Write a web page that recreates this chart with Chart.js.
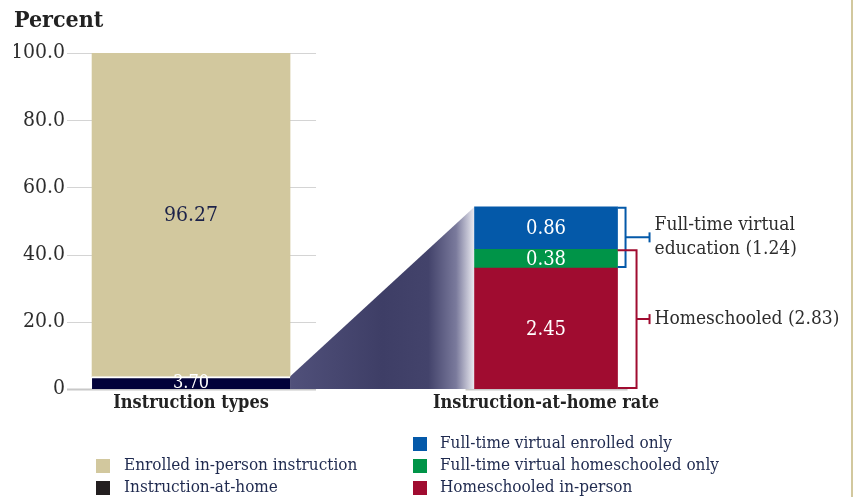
<!DOCTYPE html>
<html>
<head>
<meta charset="utf-8">
<script src="https://cdn.jsdelivr.net/npm/chart.js@4.4.1/dist/chart.umd.min.js"></script>
<style>
  html, body { margin: 0; padding: 0; background: #fff; overflow: hidden; }
  #wrap { position: relative; width: 856px; height: 497px; }
</style>
</head>
<body>
<div id="wrap"><canvas id="grafico"></canvas></div>
<script>
// categories on the x axis (placed on a linear scale so the two bars can differ in width)
const categories = ['Instruction types', 'Instruction-at-home rate'];
const categoryPos = [1, 2];

// left bar: all students
const typeLabels = ['Instruction-at-home', 'Enrolled in-person instruction'];
const typeValues = [3.70, 96.27];
const typeColors = ['#02023a', '#d2c89e'];

// right bar: breakdown of instruction-at-home (drawn magnified)
const homeLabels = ['Homeschooled in-person', 'Full-time virtual homeschooled only', 'Full-time virtual enrolled only'];
const homeValues = [2.45, 0.38, 0.86];
const homeColors = ['#a00c30', '#009448', '#0459a9'];
const homeScale = 14.7;

// bracket groups: [first segment index, last segment index]
const groupLabels = [['Full-time virtual', 'education (1.24)'], ['Homeschooled (2.83)']];
const groupRanges = [[1, 2], [0, 1]];
const groupColors = ['#0459a9', '#a00c30'];

const yTicks = [0, 20, 40, 60, 80, 100];

const FONT = "'DejaVu Serif Condensed', 'DejaVu Serif', serif";

document.addEventListener('DOMContentLoaded', function() {
  const ctx = document.getElementById('grafico').getContext('2d');

  Chart.defaults.font.family = FONT;
  Chart.defaults.color = '#2d2d2d';

  const datasets = [];
  typeValues.forEach((v, i) => datasets.push({
    label: typeLabels[i],
    data: [{ x: categoryPos[0], y: v }],
    backgroundColor: typeColors[i],
    barThickness: 198,
    borderColor: '#fff',
    borderWidth: i === 0 ? { top: 2, right: 0, bottom: 0, left: 0 } : 0,
    borderSkipped: false,
    shown: v.toFixed(2),
    labelColor: i === 0 ? '#fff' : '#1c2249',
    labelSize: i === 0 ? 18 : 21
  }));
  homeValues.forEach((v, i) => datasets.push({
    label: homeLabels[i],
    data: [{ x: categoryPos[1], y: v * homeScale }],
    backgroundColor: homeColors[i],
    barThickness: 143,
    borderWidth: 0,
    shown: v.toFixed(2),
    labelColor: '#fff',
    labelSize: 20
  }));

  const nType = typeValues.length;

  function elOf(chart, di) {
    return chart.getDatasetMeta(di).data[0];
  }

  // grid lines, baseline and the zoom wedge
  const backPlugin = {
    id: 'back',
    beforeDatasetsDraw(chart) {
      const c = chart.ctx;
      const area = chart.chartArea;
      const y = chart.scales.y;
      const navy = elOf(chart, 0);
      const leftRight = navy.x + navy.width / 2;
      const first = elOf(chart, nType);
      const last = elOf(chart, nType + homeValues.length - 1);
      const rLeft = first.x - first.width / 2;
      const rRight = first.x + first.width / 2;
      c.save();
      yTicks.forEach(t => {
        const py = Math.round(y.getPixelForValue(t)) + 0.5;
        c.beginPath();
        if (t === 0) {
          c.strokeStyle = '#c8c8c8';
          c.lineWidth = 2;
          c.moveTo(area.left, py); c.lineTo(leftRight + 26, py);
          c.moveTo(rLeft - 9, py); c.lineTo(rRight + 10, py);
        } else {
          c.strokeStyle = '#d4d4d4';
          c.lineWidth = 1;
          c.moveTo(area.left, py); c.lineTo(leftRight + 26, py);
        }
        c.stroke();
      });
      // wedge from the small slice to the blown-up bar
      const g = c.createLinearGradient(leftRight, 0, rLeft, 0);
      g.addColorStop(0, '#50507a');
      g.addColorStop(0.5, '#3e3e66');
      g.addColorStop(0.75, '#43436b');
      g.addColorStop(0.9, '#7a7a9c');
      g.addColorStop(1, '#ececf2');
      c.fillStyle = g;
      c.beginPath();
      c.moveTo(leftRight, navy.y);
      c.lineTo(rLeft, last.y);
      c.lineTo(rLeft, first.base);
      c.lineTo(leftRight, navy.base);
      c.closePath();
      c.fill();
      c.restore();
    }
  };

  // value labels, brackets, legend
  const frontPlugin = {
    id: 'front',
    afterDatasetsDraw(chart) {
      const c = chart.ctx;
      c.save();
      c.textAlign = 'center';
      c.textBaseline = 'middle';
      chart.data.datasets.forEach((ds, di) => {
        const el = elOf(chart, di);
        c.fillStyle = ds.labelColor;
        c.font = ds.labelSize + 'px ' + FONT;
        c.fillText(ds.shown, el.x, (el.y + el.base) / 2 + 1);
      });

      // brackets
      const first = elOf(chart, nType);
      const rRight = first.x + first.width / 2;
      const bx = [rRight + 8, rRight + 19];
      const tipX = rRight + 32;
      groupRanges.forEach((r, gi) => {
        const top = elOf(chart, nType + r[1]).y;
        const bot = elOf(chart, nType + r[0]).base;
        const x = bx[gi];
        const mid = (top + bot) / 2;
        c.strokeStyle = groupColors[gi];
        c.lineWidth = 2;
        c.beginPath();
        c.moveTo(rRight, top + 1); c.lineTo(x, top + 1); c.lineTo(x, bot - 1); c.lineTo(rRight, bot - 1);
        c.moveTo(x, mid); c.lineTo(tipX, mid);
        c.stroke();
        c.beginPath();
        c.moveTo(tipX, mid - 5); c.lineTo(tipX, mid + 5);
        c.stroke();
        c.fillStyle = '#2d2d2d';
        c.font = '19px ' + FONT;
        c.textAlign = 'left';
        const lines = groupLabels[gi];
        const lh = 24;
        lines.forEach((ln, li) => {
          c.fillText(ln, tipX + 5, mid + (li - (lines.length - 1) / 2) * lh);
        });
      });

      // legend: two columns
      c.font = '17px ' + FONT;
      c.textAlign = 'left';
      const rowY = [444, 466, 488];
      const leftCol = [{ t: typeLabels[1], col: typeColors[1] }, { t: typeLabels[0], col: '#231f20' }];
      leftCol.forEach((it, i) => {
        const yy = rowY[i + 1];
        c.fillStyle = it.col;
        c.fillRect(96, yy - 7, 14, 14);
        c.fillStyle = '#1f2a4f';
        c.fillText(it.t, 124, yy);
      });
      const rightCol = [2, 1, 0];
      rightCol.forEach((hi, i) => {
        const yy = rowY[i];
        c.fillStyle = homeColors[hi];
        c.fillRect(413, yy - 7, 14, 14);
        c.fillStyle = '#1f2a4f';
        c.fillText(homeLabels[hi], 440, yy);
      });

      // thin tan rule on the right edge
      c.fillStyle = '#d2c89e';
      c.fillRect(851, 0, 2, chart.height);
      c.restore();
    }
  };

  const config = {
    type: 'bar',
    data: { datasets },
    options: {
      responsive: true,
      maintainAspectRatio: false,
      animation: false,
      layout: { padding: { left: 14, right: 8, top: 0, bottom: 78 } },
      plugins: {
        legend: { display: false },
        tooltip: { enabled: false },
        title: {
          display: true,
          text: 'Percent',
          align: 'start',
          color: '#222',
          font: { size: 23, weight: 'bold' },
          padding: { top: 7, bottom: 18.4 }
        }
      },
      scales: {
        x: {
          type: 'linear',
          stacked: true,
          offset: false,
          min: 0.6506,
          max: 2.8506,
          grid: { display: false, drawTicks: false, offset: false },
          border: { display: false },
          afterBuildTicks: (s) => { s.ticks = categoryPos.map(v => ({ value: v })); },
          afterFit: (s) => { s.height = 30; },
          ticks: {
            padding: 4,
            color: '#222',
            font: { size: 18, weight: 'bold' },
            callback: (v) => categories[categoryPos.indexOf(v)]
          }
        },
        y: {
          stacked: true,
          min: 0,
          max: 100,
          grid: { display: false, drawTicks: false },
          border: { display: false },
          afterBuildTicks: (s) => { s.ticks = yTicks.map(v => ({ value: v })); },
          afterFit: (s) => { s.width = 53; },
          ticks: {
            padding: 2,
            color: '#2d2d2d',
            font: { size: 21 },
            callback: (v) => v === 0 ? '0' : v.toFixed(1)
          }
        }
      }
    },
    plugins: [backPlugin, frontPlugin]
  };

  new Chart(ctx, config);
});
</script>
</body>
</html>
